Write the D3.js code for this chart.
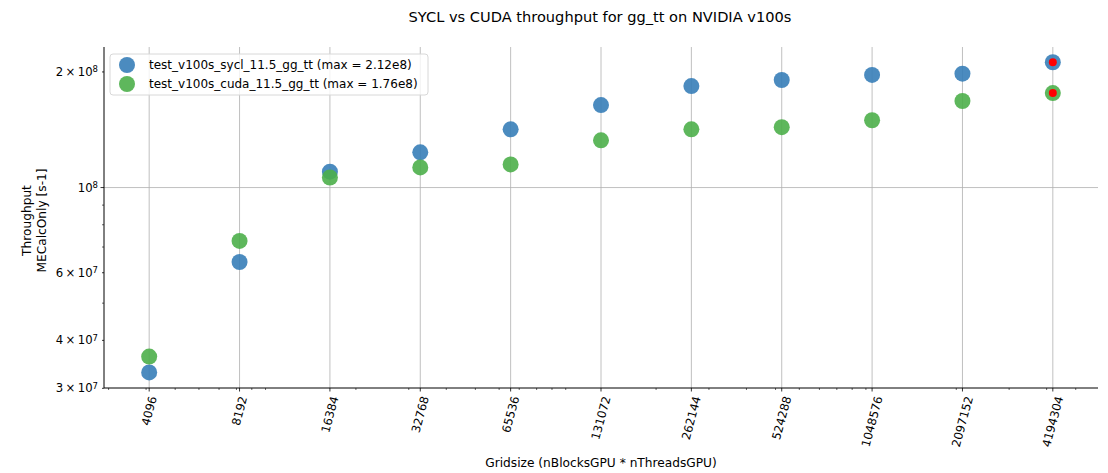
<!DOCTYPE html>
<html lang="en">
<head>
  <meta charset="utf-8">
  <script src="https://d3js.org/d3.v7.min.js"></script>
  <style>
    body { margin: 0; background: white; font-family: 'DejaVu Sans', sans-serif; }
    .axis path, .axis line { stroke: #000; }
    .axis text { fill: #000; font-size: 11.7px; font-family: 'DejaVu Sans', sans-serif; }
    .grid line { stroke: #b0b0b0; stroke-width: 0.8; }
    .label { font-size: 12.2px; fill: #000; }
  </style>
</head>
<body>
  <svg id="chart" width="1108" height="473"></svg>
  <script>
    const gridsizes = [4096, 8192, 16384, 32768, 65536, 131072, 262144, 524288, 1048576, 2097152, 4194304];
    const syclValues = [3.30e7, 6.40e7, 1.10e8, 1.235e8, 1.418e8, 1.64e8, 1.838e8, 1.906e8, 1.965e8, 1.98e8, 2.12e8];
    const cudaValues = [3.63e7, 7.26e7, 1.062e8, 1.128e8, 1.149e8, 1.327e8, 1.418e8, 1.436e8, 1.497e8, 1.68e8, 1.762e8];
    const seriesNames = ["test_v100s_sycl_11.5_gg_tt", "test_v100s_cuda_11.5_gg_tt"];
    const seriesColors = ["#377eb8", "#4daf4a"];
    const yTickValues = [3e7, 4e7, 6e7, 1e8, 2e8];

    const margin = {top: 47, right: 10, bottom: 85, left: 104},
          width = 1108 - margin.left - margin.right,
          height = 473 - margin.top - margin.bottom;

    const svg = d3.select("#chart");
    const g = svg.append("g").attr("transform", `translate(${margin.left},${margin.top})`);

    const x = d3.scaleLog().base(2).domain([Math.pow(2, 11.5), Math.pow(2, 22.5)]).range([0, width]);
    const y = d3.scaleLog().domain([Math.pow(10, 7.478), Math.pow(10, 8.366)]).range([height, 0]);

    // grid
    g.append("g").attr("class", "grid")
      .selectAll("line").data(gridsizes).enter().append("line")
      .attr("x1", d => x(d)).attr("x2", d => x(d)).attr("y1", 0).attr("y2", height);
    g.append("g").attr("class", "grid")
      .append("line").attr("x1", 0).attr("x2", width).attr("y1", y(1e8)).attr("y2", y(1e8));

    // minor ticks on x (decade style)
    const xMinor = [];
    for (let e = 3; e <= 6; e++) for (let k = 1; k <= 9; k++) {
      const v = k * Math.pow(10, e);
      if (v >= x.domain()[0] && v <= x.domain()[1]) xMinor.push(v);
    }
    const yMinor = [5e7, 7e7, 8e7, 9e7];

    const xAxis = g.append("g").attr("class", "axis").attr("transform", `translate(0,${height})`);
    xAxis.append("line").attr("x1", 0).attr("x2", width);
    xAxis.selectAll(".minor").data(xMinor).enter().append("line")
      .attr("x1", d => x(d)).attr("x2", d => x(d)).attr("y1", 0).attr("y2", 2).attr("stroke-width", 0.6);
    xAxis.selectAll(".major").data(gridsizes).enter().append("line")
      .attr("x1", d => x(d)).attr("x2", d => x(d)).attr("y1", 0).attr("y2", 3.5).attr("stroke-width", 0.8);
    xAxis.selectAll("text").data(gridsizes).enter().append("text")
      .text(d => d)
      .attr("text-anchor", "middle")
      .attr("dominant-baseline", "central")
      .each(function(d) {
        const L = this.getComputedTextLength();
        const a = 75 * Math.PI / 180;
        const h = 11;
        const bh = L * Math.sin(a) + h * Math.cos(a);
        d3.select(this).attr("transform", `translate(${x(d)},${7 + bh / 2}) rotate(-75)`);
      });

    const yAxis = g.append("g").attr("class", "axis");
    yAxis.append("line").attr("y1", 0).attr("y2", height);
    yAxis.selectAll(".minor").data(yMinor).enter().append("line")
      .attr("y1", d => y(d)).attr("y2", d => y(d)).attr("x1", 0).attr("x2", -2).attr("stroke-width", 0.6);
    yAxis.selectAll(".major").data(yTickValues).enter().append("line")
      .attr("y1", d => y(d)).attr("y2", d => y(d)).attr("x1", 0).attr("x2", d => d === 1e8 ? -3.5 : -2).attr("stroke-width", 0.8);
    yAxis.selectAll("text").data(yTickValues).enter().append("text")
      .attr("x", -6).attr("y", d => y(d)).attr("dy", "0.35em").attr("text-anchor", "end")
      .each(function(d) {
        const t = d3.select(this);
        const e = Math.floor(Math.log10(d) + 1e-9);
        const m = Math.round(d / Math.pow(10, e));
        t.append("tspan").text(m === 1 ? "10" : `${m}\u2009\u00d7\u200910`);
        t.append("tspan").attr("dy", "-0.45em").attr("font-size", "8.5px").text(e);
      });

    // points
    const series = [syclValues, cudaValues];
    series.forEach((vals, i) => {
      g.append("g").selectAll("circle").data(gridsizes).enter().append("circle")
        .attr("cx", d => x(d)).attr("cy", (d, j) => y(vals[j])).attr("r", 8)
        .attr("fill", seriesColors[i]).attr("fill-opacity", 0.9);
    });
    series.forEach(vals => {
      const j = d3.maxIndex(vals);
      g.append("circle").attr("cx", x(gridsizes[j])).attr("cy", y(vals[j])).attr("r", 4).attr("fill", "red");
    });

    // legend
    const leg = g.append("g").attr("transform", "translate(6,7)");
    leg.append("rect").attr("width", 318).attr("height", 41).attr("rx", 3)
      .attr("fill", "white").attr("fill-opacity", 0.8).attr("stroke", "#d8d8d8");
    series.forEach((vals, i) => {
      const row = leg.append("g").attr("transform", `translate(0,${11 + i * 19})`);
      row.append("circle").attr("cx", 17).attr("cy", 0).attr("r", 8)
        .attr("fill", seriesColors[i]).attr("fill-opacity", 0.9);
      row.append("text").attr("x", 39).attr("dy", "0.35em").attr("font-size", "12px")
        .text(`${seriesNames[i]} (max = ${d3.max(vals).toExponential(2).replace("+", "")})`);
    });

    // labels
    svg.append("text").attr("x", 600).attr("y", 22).attr("text-anchor", "middle")
      .attr("font-size", "14.6px").text("SYCL vs CUDA throughput for gg_tt on NVIDIA v100s");
    svg.append("text").attr("class", "label").attr("x", 601).attr("y", 467).attr("text-anchor", "middle")
      .text("Gridsize (nBlocksGPU * nThreadsGPU)");
    const yl = svg.append("text").attr("class", "label").attr("text-anchor", "middle")
      .attr("transform", `translate(31,${margin.top + height / 2 + 3}) rotate(-90)`);
    yl.append("tspan").attr("x", 0).text("Throughput");
    yl.append("tspan").attr("x", 0).attr("dy", "1.2em").text("MECalcOnly [s-1]");
  </script>
</body>
</html>
